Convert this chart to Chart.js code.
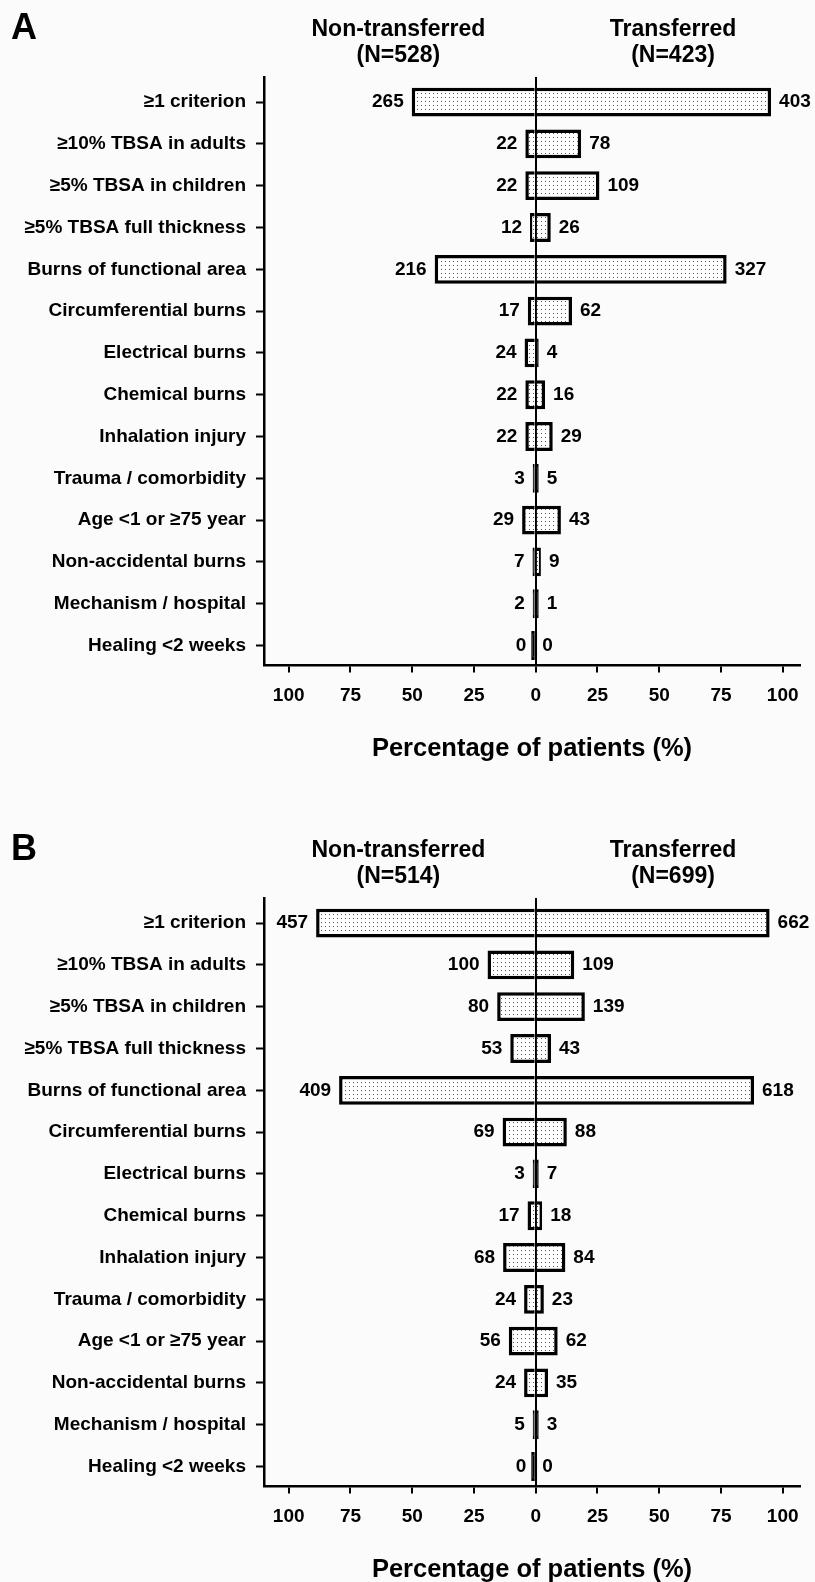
<!DOCTYPE html>
<html>
<head>
<meta charset="utf-8">
<script src="https://cdn.jsdelivr.net/npm/chart.js"></script>
<style>
  body { margin: 0; background: #fbfbfb; overflow: hidden; }
  canvas { display: block; }
</style>
</head>
<body>
<canvas id="chartA" width="815" height="821"></canvas>
<canvas id="chartB" width="815" height="764"></canvas>
<script>
const CATEGORIES = [
  "≥1 criterion",
  "≥10% TBSA in adults",
  "≥5% TBSA in children",
  "≥5% TBSA full thickness",
  "Burns of functional area",
  "Circumferential burns",
  "Electrical burns",
  "Chemical burns",
  "Inhalation injury",
  "Trauma / comorbidity",
  "Age <1 or ≥75 year",
  "Non-accidental burns",
  "Mechanism / hospital",
  "Healing <2 weeks",
];
const X_TICKS = [-100, -75, -50, -25, 0, 25, 50, 75, 100];
const GROUPS = ["Non-transferred", "Transferred"];

// Panel A
const A_N = [528, 423];
const A_LEFT_PCT = [50.2, 4.2, 4.2, 2.3, 40.9, 3.2, 4.5, 4.2, 4.2, 0.6, 5.5, 1.3, 0.4, 0];
const A_RIGHT_PCT = [95.3, 18.4, 25.8, 6.1, 77.3, 14.7, 0.9, 3.8, 6.9, 1.2, 10.2, 2.1, 0.2, 0];
const A_LEFT_COUNT = [265, 22, 22, 12, 216, 17, 24, 22, 22, 3, 29, 7, 2, 0];
const A_RIGHT_COUNT = [403, 78, 109, 26, 327, 62, 4, 16, 29, 5, 43, 9, 1, 0];

// Panel B
const B_N = [514, 699];
const B_LEFT_PCT = [88.9, 19.5, 15.6, 10.3, 79.6, 13.4, 0.6, 3.3, 13.2, 4.7, 10.9, 4.7, 1.0, 0];
const B_RIGHT_PCT = [94.7, 15.6, 19.9, 6.2, 88.4, 12.6, 1.0, 2.6, 12.0, 3.3, 8.9, 5.0, 0.4, 0];
const B_LEFT_COUNT = [457, 100, 80, 53, 409, 69, 3, 17, 68, 24, 56, 24, 5, 0];
const B_RIGHT_COUNT = [662, 109, 139, 43, 618, 88, 7, 18, 84, 23, 62, 35, 3, 0];

const FONT = '"Liberation Sans", Arial, sans-serif';
Chart.defaults.font.family = FONT;
Chart.defaults.color = "#000";

// dotted fill like the original print
function dotPattern() {
  const c = document.createElement("canvas");
  c.width = 4;
  c.height = 4;
  const g = c.getContext("2d");
  g.fillStyle = "#ffffff";
  g.fillRect(0, 0, 4, 4);
  g.fillStyle = "#555555";
  g.fillRect(1, 1, 1, 1);
  return g.createPattern(c, "repeat");
}
const PATTERN = dotPattern();

const annotate = {
  id: "annotate",
  afterDraw(chart, args, opts) {
    const { ctx } = chart;
    const x = chart.scales.x;
    ctx.save();
    ctx.fillStyle = "#000";

    // counts next to the bars
    ctx.font = `bold 19px ${FONT}`;
    ctx.textBaseline = "middle";
    chart.data.datasets.forEach((ds, di) => {
      chart.getDatasetMeta(di).data.forEach((bar, i) => {
        const lo = Math.min(bar.x, bar.base);
        const hi = Math.max(bar.x, bar.base);
        if (di === 0) {
          ctx.textAlign = "right";
          ctx.fillText(String(ds.counts[i]), lo - 8, bar.y);
        } else {
          ctx.textAlign = "left";
          ctx.fillText(String(ds.counts[i]), hi + 8, bar.y);
        }
      });
    });

    // group headers
    ctx.font = `bold 23px ${FONT}`;
    ctx.textAlign = "center";
    GROUPS.forEach((name, gi) => {
      const cx = x.getPixelForValue(gi === 0 ? -55.6 : 55.6);
      ctx.fillText(name, cx, 30);
      ctx.fillText(`(N=${opts.n[gi]})`, cx, 56);
    });

    // panel letter
    ctx.font = `bold 36px ${FONT}`;
    ctx.textAlign = "left";
    ctx.textBaseline = "alphabetic";
    ctx.fillText(opts.letter, 11, 39);
    ctx.restore();
  },
};

function makeChart(id, letter, n, leftPct, rightPct, leftCount, rightCount, padBottom) {
  const barStyle = {
    // very thin bars print as solid black in the original
    backgroundColor: (c) => (c.raw && Math.abs(c.raw.x) < 1.5 ? "#000" : PATTERN),
    borderColor: "#000",
    borderWidth: 3.5,
    minBarLength: 3,
    barPercentage: 0.69,
    categoryPercentage: 1,
  };
  return new Chart(document.getElementById(id), {
    type: "bar",
    data: {
      datasets: [
        {
          ...barStyle,
          data: leftPct.map((v, i) => ({ x: -v, y: i })),
          counts: leftCount,
        },
        {
          ...barStyle,
          data: rightPct.map((v, i) => ({ x: v, y: i })),
          counts: rightCount,
        },
      ],
    },
    options: {
      indexAxis: "y",
      responsive: false,
      animation: false,
      layout: { padding: { top: 77, left: 0, right: 15, bottom: padBottom } },
      plugins: {
        legend: { display: false },
        tooltip: { enabled: false },
        annotate: { letter, n },
      },
      scales: {
        x: {
          type: "linear",
          stacked: true,
          min: -110,
          max: 107,
          z: 1,
          afterBuildTicks: (s) => { s.ticks = X_TICKS.map((v) => ({ value: v })); },
          ticks: {
            callback: (v) => Math.abs(v),
            font: { size: 19, weight: "bold" },
            padding: 12,
            color: "#000",
          },
          grid: {
            color: (c) => (c.tick && c.tick.value === 0 ? "#000" : "rgba(0,0,0,0)"),
            lineWidth: 2,
            tickColor: "#000",
            tickLength: 7,
            tickWidth: 2,
          },
          border: { display: true, color: "#000", width: 2.5 },
          title: {
            display: true,
            text: "Percentage of patients (%)",
            font: { size: 25.5, weight: "bold" },
            color: "#000",
            padding: { top: 14, bottom: 0 },
          },
        },
        y: {
          type: "linear",
          stacked: true,
          reverse: true,
          offset: false,
          min: -0.6,
          max: 13.48,
          afterBuildTicks: (s) => { s.ticks = CATEGORIES.map((_, i) => ({ value: i })); },
          afterFit: (s) => { s.width = 264; },
          ticks: {
            callback: (v) => CATEGORIES[v],
            autoSkip: false,
            font: { size: 19, weight: "bold" },
            padding: 10,
            color: "#000",
          },
          grid: {
            offset: false,
            drawOnChartArea: false,
            tickColor: "#000",
            tickLength: 8,
            tickWidth: 2,
          },
          border: { display: true, color: "#000", width: 2.5 },
        },
      },
    },
    plugins: [annotate],
  });
}

makeChart("chartA", "A", A_N, A_LEFT_PCT, A_RIGHT_PCT, A_LEFT_COUNT, A_RIGHT_COUNT, 57);
makeChart("chartB", "B", B_N, B_LEFT_PCT, B_RIGHT_PCT, B_LEFT_COUNT, B_RIGHT_COUNT, 0);
</script>
</body>
</html>
